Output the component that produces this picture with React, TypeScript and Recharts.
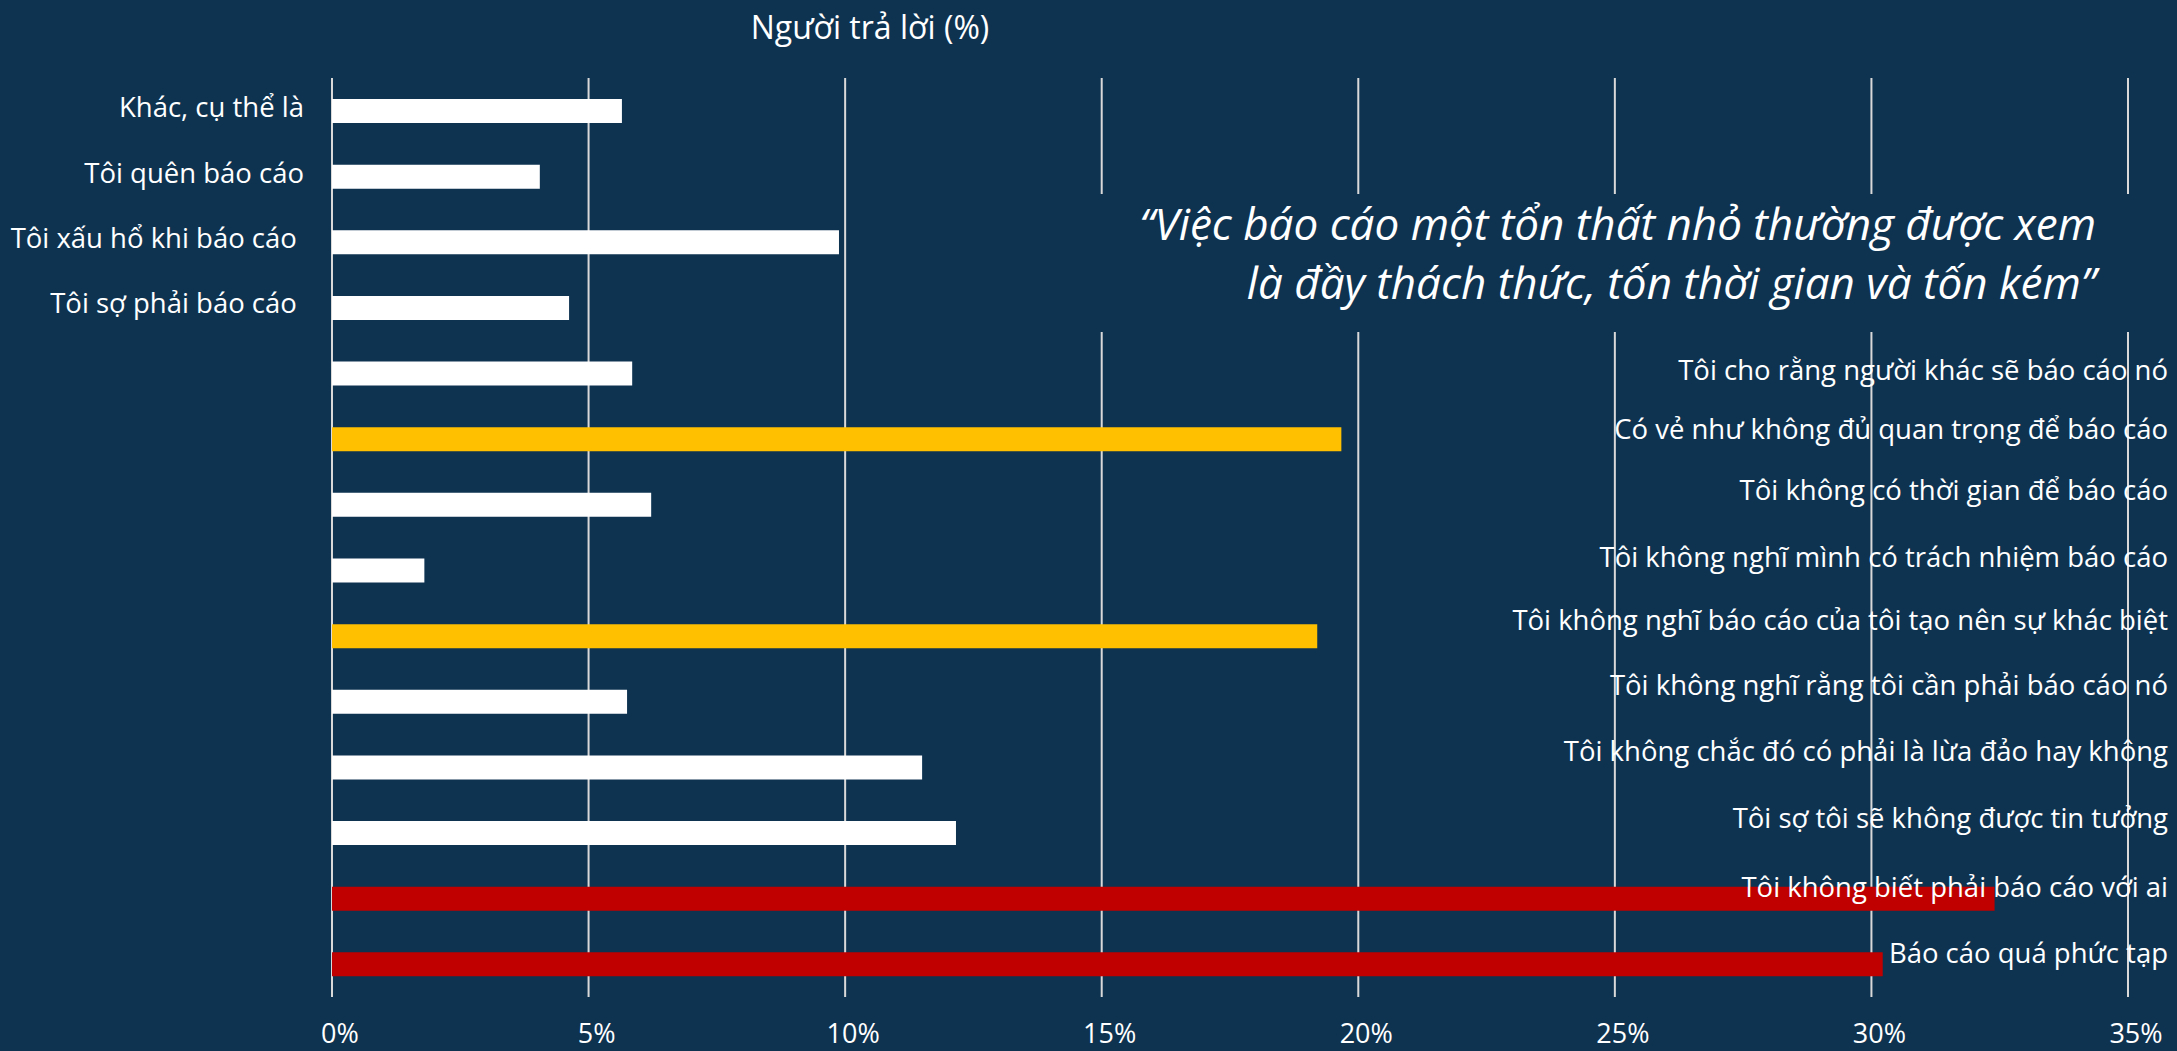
import { BarChart, Bar, XAxis, YAxis, CartesianGrid, Cell } from 'recharts';

const reasons = [
  'Khác, cụ thể là',
  'Tôi quên báo cáo',
  'Tôi xấu hổ khi báo cáo ',
  'Tôi sợ phải báo cáo ',
  'Tôi cho rằng người khác sẽ báo cáo nó',
  'Có vẻ như không đủ quan trọng để báo cáo',
  'Tôi không có thời gian để báo cáo',
  'Tôi không nghĩ mình có trách nhiệm báo cáo',
  'Tôi không nghĩ báo cáo của tôi tạo nên sự khác biệt',
  'Tôi không nghĩ rằng tôi cần phải báo cáo nó',
  'Tôi không chắc đó có phải là lừa đảo hay không',
  'Tôi sợ tôi sẽ không được tin tưởng',
  'Tôi không biết phải báo cáo với ai',
  'Báo cáo quá phức tạp'
];

const shares = [5.65, 4.05, 9.88, 4.62, 5.85, 19.67, 6.22, 1.8, 19.2, 5.75, 11.5, 12.16, 32.4, 30.22];

// which bars are highlighted in the slide
const tones = ['base', 'base', 'base', 'base', 'base', 'amber', 'base', 'base', 'amber', 'base', 'base', 'base', 'red', 'red'];

const xTicks = [0, 5, 10, 15, 20, 25, 30, 35];

const title = 'Người trả lời (%)';
const quoteLines = [
  '“Việc báo cáo một tổn thất nhỏ thường được xem',
  'là đầy thách thức, tốn thời gian và tốn kém”'
];

const BG = '#0E3351';
const FONT = '"Open Sans", "Noto Sans", sans-serif';
const toneColor: Record<string, string> = { base: '#FFFFFF', amber: '#FFC000', red: '#C00000' };

// the slide's labels are hand-placed text boxes, nudged a bit above the bar centre
const labelNudge = [-3, -3, -4, -4, -3, -10, -14, -13, -16, -16, -16, -15, -11, -11];

const data = reasons.map((name, i) => ({ name, value: shares[i], tone: tones[i] }));

function ReasonTick(props: any) {
  const { y, payload, index } = props;
  const onLeft = index < 4;
  return (
    <text
      x={onLeft ? 304 : 2168}
      y={y + (labelNudge[index] ?? 0)}
      dy="0.35em"
      textAnchor="end"
      fill="#FFFFFF"
      fontSize={27.5}
      fontFamily={FONT}
      style={{ whiteSpace: 'pre' }}
    >
      {payload.value}
    </text>
  );
}

function PercentTick(props: any) {
  const { x, y, payload } = props;
  return (
    <text x={x + 8} y={y + 37} dy="0.35em" textAnchor="middle" fill="#FFFFFF" fontSize={27} fontFamily={FONT}>
      {payload.value}%
    </text>
  );
}

export default function App() {
  return (
    <div style={{ position: 'absolute', left: 0, top: 0, width: 2177, height: 1051, background: BG, fontFamily: FONT }}>
      <BarChart
        width={2177}
        height={1051}
        data={data}
        layout="vertical"
        margin={{ top: 78, right: 49, bottom: 0, left: 0 }}
        barCategoryGap={0}
      >
        <CartesianGrid horizontal={false} stroke="#D9D9D9" strokeWidth={2} />
        <XAxis
          type="number"
          domain={[0, 35]}
          ticks={xTicks}
          axisLine={false}
          tickLine={false}
          tickSize={0}
          tickMargin={0}
          height={54}
          tick={<PercentTick />}
          interval={0}
        />
        <Bar dataKey="value" barSize={24} isAnimationActive={false}>
          {data.map((d, i) => (
            <Cell key={i} fill={toneColor[d.tone]} />
          ))}
        </Bar>
        <YAxis
          type="category"
          dataKey="name"
          width={332}
          axisLine={false}
          tickLine={false}
          tick={<ReasonTick />}
          interval={0}
        />
      </BarChart>
      <div
        style={{
          position: 'absolute',
          left: 0,
          top: 5,
          width: 1740,
          textAlign: 'center',
          color: '#FFFFFF',
          fontSize: 32,
          lineHeight: '44px'
        }}
      >
        {title}
      </div>
      <div
        style={{
          position: 'absolute',
          left: 1090,
          top: 194,
          width: 2177 - 1090 - 81,
          height: 138,
          paddingRight: 81,
          background: BG,
          textAlign: 'right',
          color: '#FFFFFF',
          fontStyle: 'italic',
          fontSize: 44,
          lineHeight: '59px'
        }}
      >
        {quoteLines.map((line) => (
          <div key={line}>{line}</div>
        ))}
      </div>
    </div>
  );
}
